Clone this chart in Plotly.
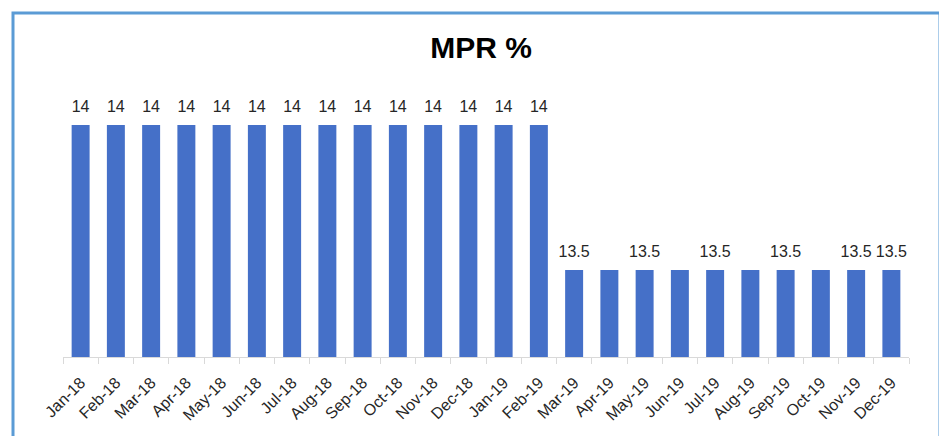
import plotly.graph_objects as go

months = ["Jan-18", "Feb-18", "Mar-18", "Apr-18", "May-18", "Jun-18", "Jul-18", "Aug-18",
          "Sep-18", "Oct-18", "Nov-18", "Dec-18", "Jan-19", "Feb-19", "Mar-19", "Apr-19",
          "May-19", "Jun-19", "Jul-19", "Aug-19", "Sep-19", "Oct-19", "Nov-19", "Dec-19"]
mpr = [14, 14, 14, 14, 14, 14, 14, 14, 14, 14, 14, 14, 14, 14,
       13.5, 13.5, 13.5, 13.5, 13.5, 13.5, 13.5, 13.5, 13.5, 13.5]
# data labels as shown in the reference (some hidden)
labels = ["14"] * 14 + ["13.5", "", "13.5", "", "13.5", "", "13.5", "", "13.5", "13.5"]

# the page body has an 8px margin, so the figure is drawn 8px right/down
W, H = 939, 428
L, R, T, B = 55, 38, 59, 79
PW, PH = W - L - R, H - T - B

fig = go.Figure()
fig.add_trace(go.Bar(
    x=months, y=mpr,
    marker=dict(color="#4570C8", line=dict(width=0)),
    width=0.51, hoverinfo="x+y",
))
fig.add_trace(go.Scatter(
    x=months, y=mpr, text=labels, mode="markers+text", textposition="top center",
    marker=dict(size=13, color="rgba(0,0,0,0)"),
    textfont=dict(family="Liberation Sans, Arial", size=16, color="#262626"),
    cliponaxis=False, hoverinfo="skip",
))

fig.update_layout(
    width=W, height=H,
    margin=dict(l=L, r=R, t=T, b=B, autoexpand=False),
    paper_bgcolor="white", plot_bgcolor="white",
    showlegend=False,
    title=dict(text="<b>MPR %</b>", x=473 / W, xanchor="center", y=1 - 39 / H,
               yanchor="middle", yref="container", automargin=False,
               font=dict(family="Liberation Sans, Arial", size=30, color="#000000")),
    xaxis=dict(range=[-0.5, 23.5], showline=True, linecolor="#d9d9d9", linewidth=1,
               ticks="outside", tickson="boundaries", ticklen=6, tickcolor="#d9d9d9",
               tickangle=-45, showgrid=False, automargin=False, ticklabelstandoff=9,
               tickfont=dict(family="Liberation Sans, Arial", size=16, color="#262626")),
    yaxis=dict(range=[13.2, 14.2], visible=False, showgrid=False, automargin=False),
    shapes=[dict(type="rect", xref="paper", yref="paper",
                 x0=(5 - L) / PW, x1=(932 - L) / PW,
                 y0=-0.6, y1=(PH + T - 5) / PH,
                 line=dict(color="#5B9BD5", width=3), fillcolor="rgba(0,0,0,0)",
                 layer="above")],
)

fig.write_html("out.html")
